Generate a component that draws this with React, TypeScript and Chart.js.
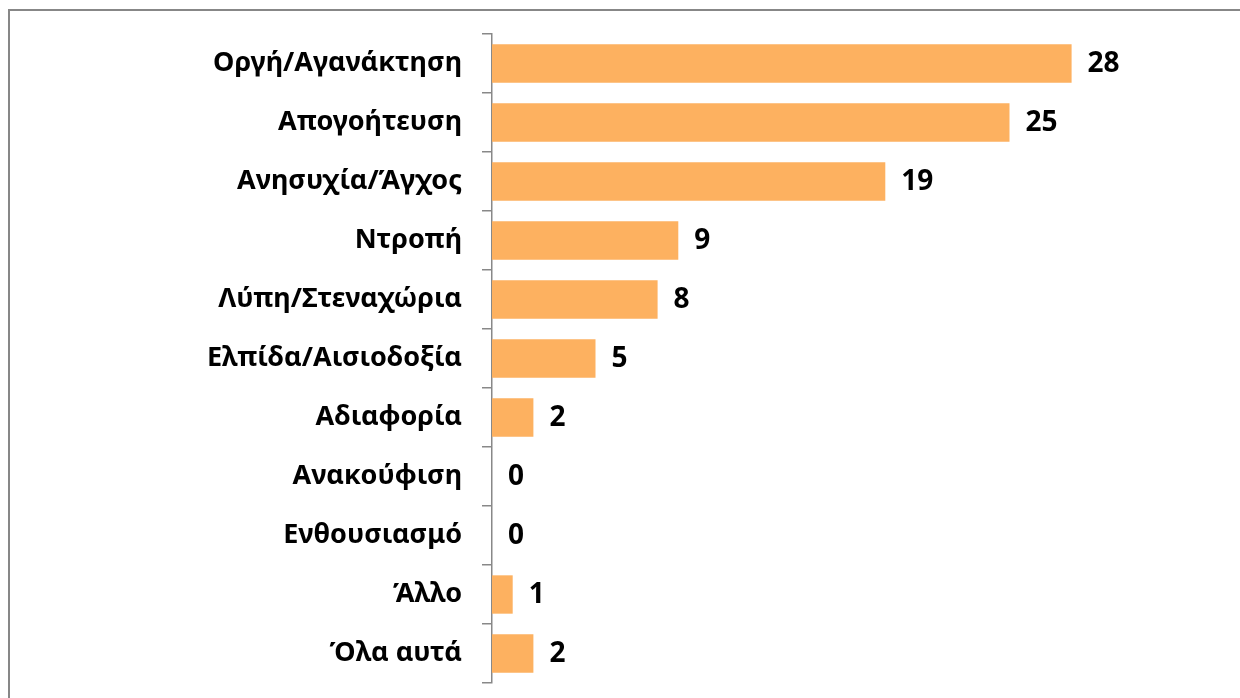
import React, { useEffect, useRef } from "react";
import { Chart, registerables } from "chart.js";

Chart.register(...registerables);

const categories = [
  "Οργή/Αγανάκτηση",
  "Απογοήτευση",
  "Ανησυχία/Άγχος",
  "Ντροπή",
  "Λύπη/Στεναχώρια",
  "Ελπίδα/Αισιοδοξία",
  "Αδιαφορία",
  "Ανακούφιση",
  "Ενθουσιασμό",
  "Άλλο",
  "Όλα αυτά",
];
const values = [28, 25, 19, 9, 8, 5, 2, 0, 0, 1, 2];

const FONT = "'Noto Sans', sans-serif";

const labelPlugin = {
  id: "valueLabels",
  afterDatasetsDraw(chart: any) {
    const ctx = chart.ctx;
    const meta = chart.getDatasetMeta(0);
    ctx.save();
    ctx.font = `bold 28px ${FONT}`;
    ctx.fillStyle = "#000";
    ctx.textAlign = "left";
    ctx.textBaseline = "middle";
    meta.data.forEach((bar: any, i: number) => {
      ctx.fillText(String(values[i]), bar.x + 16, bar.y + 1);
    });
    ctx.restore();
  },
};

export default function App() {
  const ref = useRef<HTMLCanvasElement>(null);
  useEffect(() => {
    if (!ref.current) return;
    const chart = new Chart(ref.current, {
      type: "bar",
      data: {
        labels: categories,
        datasets: [
          {
            data: values,
            backgroundColor: "rgb(253,177,96)",
            barPercentage: 0.65,
            categoryPercentage: 1,
          },
        ],
      },
      options: {
        indexAxis: "y",
        animation: false,
        responsive: false,
        maintainAspectRatio: false,
        layout: { padding: { left: 0, right: 127, top: 34, bottom: 15 } },
        plugins: { legend: { display: false }, tooltip: { enabled: false } },
        scales: {
          x: { display: false, min: 0, max: 30 },
          y: {
            afterFit: (s: any) => {
              s.width = 492;
              s.paddingTop = 0;
              s.paddingBottom = 0;
            },
            grid: {
              display: true,
              drawOnChartArea: false,
              drawTicks: true,
              tickLength: 10,
              color: "#888",
              lineWidth: 1.5,
              offset: true,
            },
            border: { display: true, color: "#888", width: 1.5 },
            ticks: {
              padding: 20,
              color: "#000",
              font: { family: FONT, size: 27, weight: "bold" },
            },
          },
        },
      },
      plugins: [labelPlugin],
    });
    return () => chart.destroy();
  }, []);
  return (
    <div style={{ position: "absolute", left: 0, top: 0, width: 1240, height: 698, overflow: "hidden" }}>
      <canvas ref={ref} width={1240} height={698} style={{ position: "absolute", left: 0, top: 0 }} />
      <div
        style={{
          position: "absolute",
          left: 8,
          top: 9,
          width: 1232,
          height: 689,
          borderTop: "2px solid #878787",
          borderLeft: "2px solid #878787",
          boxSizing: "border-box",
          pointerEvents: "none",
        }}
      />
    </div>
  );
}
